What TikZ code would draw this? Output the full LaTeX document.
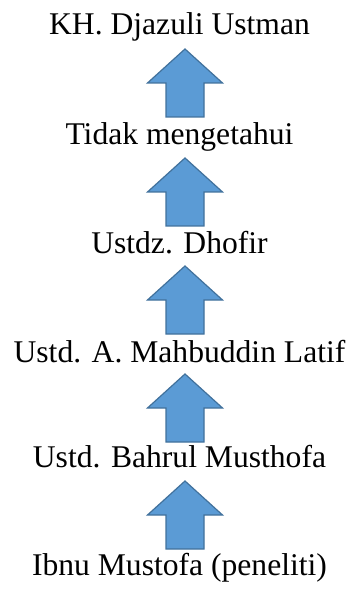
\documentclass[tikz,border=0pt]{standalone}
\usepackage{fontspec}
\setmainfont{Liberation Serif}
\definecolor{arrowfill}{HTML}{5B9BD5}
\definecolor{arrowline}{HTML}{41719C}
\begin{document}
\begin{tikzpicture}[x=1pt,y=1pt,
  label/.style={inner sep=0pt, anchor=base, font=\fontsize{31.6}{37}\selectfont},
  blockarrow/.style={fill=arrowfill, draw=arrowline, line width=1.2pt, line join=miter}]
\useasboundingbox (0,0) rectangle (351,-593);
\node[label] (n1) at (179.5,-35) {KH. Djazuli Ustman};
\node[label] (n2) at (179.5,-145) {Tidak mengetahui};
\node[label] (n3) at (179.5,-253) {Ustdz. Dhofir};
\node[label] (n4) at (179.5,-362) {Ustd. A. Mahbuddin Latif};
\node[label] (n5) at (179.5,-467) {Ustd. Bahrul Musthofa};
\node[label] (n6) at (179.5,-575) {Ibnu Mustofa (peneliti)};
\foreach \i/\y in {1/49,2/158,3/266,4/374,5/481}{
  \coordinate (t\i) at (185,-\y);
  \draw[blockarrow] (t\i) -- ++(37.5,-34) -- ++(-18.5,0) -- ++(0,-34) -- ++(-38,0) -- ++(0,34) -- ++(-18.5,0) -- cycle;
}
\end{tikzpicture}
\end{document}
